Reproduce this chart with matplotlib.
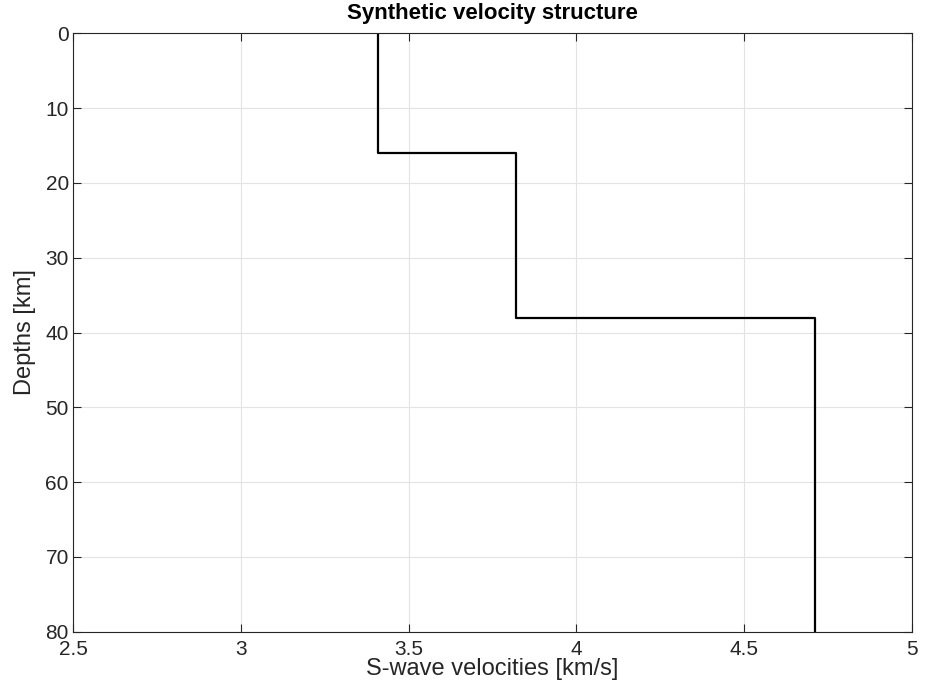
import numpy as np
import matplotlib
matplotlib.use('Agg')
import matplotlib.pyplot as plt

plt.rcParams['font.family'] = ['Liberation Sans', 'DejaVu Sans']

# layered model: top depth of each layer and its S-wave velocity
layer_tops = [0, 16, 38]
max_depth = 80
vs = [3.41, 3.82, 4.71]

# turn layers into a staircase profile
bounds = layer_tops + [max_depth]
depth = []
vel = []
for i in range(len(vs)):
    depth += [bounds[i], bounds[i + 1]]
    vel += [vs[i], vs[i]]

fig = plt.figure(figsize=(9.25, 6.9), dpi=100)
ax = fig.add_axes([0.0789, 0.0845, 0.9071, 0.8672])

ax.plot(vel, depth, color='black', lw=1.6)

ax.set_xlim(2.5, 5)
ax.set_ylim(80, 0)
ax.set_xticks([2.5, 3, 3.5, 4, 4.5, 5])
ax.set_xticklabels(['2.5', '3', '3.5', '4', '4.5', '5'])
ax.set_yticks(range(0, 81, 10))

ax.grid(True, color='#e3e3e3', lw=0.8)
ax.set_axisbelow(True)
ax.tick_params(direction='in', length=6, width=0.8, top=True, right=True,
               labelsize=15, colors='#262626', labelcolor='#262626')
ax.tick_params(axis='x', pad=6)
ax.tick_params(axis='y', pad=3)
for s in ax.spines.values():
    s.set_color('#262626')
    s.set_linewidth(0.8)

ax.set_xlabel('S-wave velocities [km/s]', fontsize=17, color='#262626', labelpad=-1)
ax.set_ylabel('Depths [km]', fontsize=17, color='#262626', labelpad=7)
ax.set_title('Synthetic velocity structure', fontsize=16, fontweight='bold', pad=10)

fig.savefig('out.png', dpi=100)
